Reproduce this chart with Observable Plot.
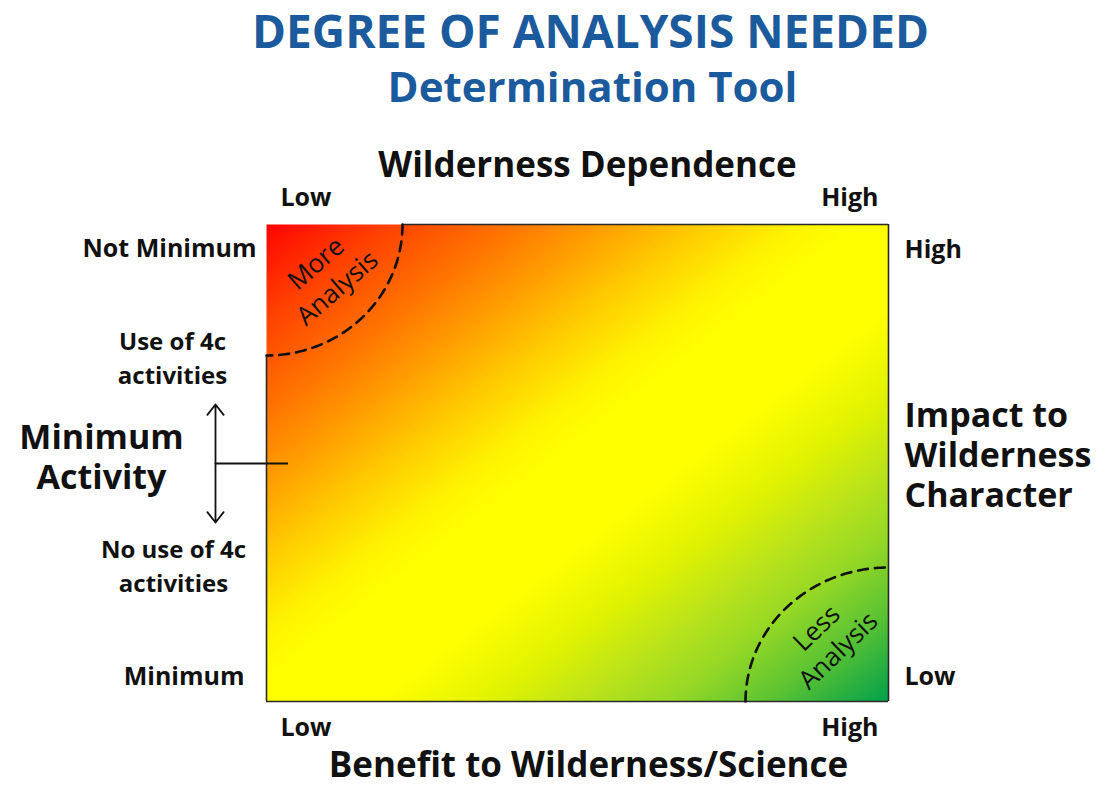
<!DOCTYPE html>
<html>
<head>
<meta charset="utf-8">
<script src="https://cdn.jsdelivr.net/npm/d3@7"></script>
<script src="https://cdn.jsdelivr.net/npm/@observablehq/plot@0.6"></script>
<style>
  html, body { margin: 0; padding: 0; background: #fff; }
  #chart { width: 1103px; height: 786px; }
</style>
</head>
<body>
<div id="chart"></div>
<script>
// ---- Texts / categories ----
const titleLines = ["DEGREE OF ANALYSIS NEEDED", "Determination Tool"];
const topAxisTitle = "Wilderness Dependence";
const bottomAxisTitle = "Benefit to Wilderness/Science";
const xTickLabels = ["Low", "High"];            // at x = 0 and x = 1
const rightTickLabels = ["Low", "High"];        // at y = 0 and y = 1
const rightAxisTitle = "Impact to\nWilderness\nCharacter";
const leftTickLabels = ["Minimum", "Not Minimum"]; // at y = 0 and y = 1
const leftAxisTitle = "Minimum\nActivity";
const leftRangeLabels = ["No use of 4c\nactivities", "Use of 4c\nactivities"];
const zoneLabels = ["More\nAnalysis", "Less\nAnalysis"];

// ---- Gradient (value = x - y : -1 top-left ... +1 bottom-right) ----
const gradientStops  = [-1, -0.8, -0.6, -0.45, -0.3, -0.15, -0.05, 0.18, 0.35, 0.5, 0.65, 0.8, 1];
const gradientColors = ["#ff0400", "#ff4200", "#ff7600", "#ffa000", "#ffcc00", "#fff200", "#ffff00",
                        "#ffff00", "#e2f300", "#bde41a", "#95d826", "#5ec432", "#02a04c"];

// ---- Layout helpers (pixel -> data units of the unit square) ----
const W = 1103, H = 786, FX0 = 266, FX1 = 888, FY0 = 224, FY1 = 701;
const ux = px => (px - FX0) / (FX1 - FX0);
const vy = py => (FY1 - py) / (FY1 - FY0);

// zone arcs (radii in data units)
const tlR = {rx: ux(402), ry: 1 - vy(355)};
const brR = {rx: 1 - ux(745), ry: vy(567)};
const angles = d3.range(0, 91, 1).map(a => a * Math.PI / 180);
const arcTL = angles.map(a => ({x: tlR.rx * Math.cos(a), y: 1 - tlR.ry * Math.sin(a)}));
const arcBR = angles.map(a => ({x: 1 - brR.rx * Math.cos(a), y: brR.ry * Math.sin(a)}));

const ink = "#111";
const blue = "#1b5a9c";
const txt = (arr, opts) => Plot.text(arr, {text: d => d, fill: ink, fontWeight: 700, lineAnchor: "bottom", ...opts});

const chart = Plot.plot({
  width: W,
  height: H,
  marginLeft: FX0,
  marginRight: W - FX1,
  marginTop: FY0,
  marginBottom: H - FY1,
  style: {fontFamily: "'Open Sans', 'DejaVu Sans', sans-serif", background: "#fff", overflow: "visible"},
  x: {domain: [0, 1], axis: null},
  y: {domain: [0, 1], axis: null},
  color: {type: "linear", domain: gradientStops, range: gradientColors, interpolate: "rgb"},
  marks: [
    Plot.raster({fill: (x, y) => x - y, x1: 0, x2: 1, y1: 0, y2: 1, pixelSize: 1, imageRendering: "auto"}),
    // frame borders
    Plot.ruleY([1], {x1: tlR.rx, x2: 1, stroke: "#2a2a2a", strokeWidth: 1.6}),
    Plot.ruleY([0], {x1: 0, x2: 1, stroke: "#2a2a2a", strokeWidth: 1.6}),
    Plot.ruleX([0], {y1: 0, y2: 1 - tlR.ry, stroke: "#2a2a2a", strokeWidth: 1.6}),
    Plot.ruleX([1], {y1: 0, y2: 1, stroke: "#2a2a2a", strokeWidth: 1.6}),
    // dashed zone arcs
    Plot.line(arcTL, {x: "x", y: "y", stroke: ink, strokeWidth: 2.6, strokeDasharray: "10,7", curve: "linear"}),
    Plot.line(arcBR, {x: "x", y: "y", stroke: ink, strokeWidth: 2.6, strokeDasharray: "10,7", curve: "linear"}),
    // zone labels
    Plot.text([zoneLabels[0]], {text: d => d, x: ux(325), y: vy(274), rotate: -41, fontSize: 26, lineHeight: 1.25, fill: ink, textAnchor: "middle", lineAnchor: "middle"}),
    Plot.text([zoneLabels[1]], {text: d => d, x: ux(826), y: vy(638), rotate: -44, fontSize: 26, lineHeight: 1.2, fill: ink, textAnchor: "middle", lineAnchor: "middle"}),
    // minimum activity bracket
    Plot.arrow([1, -1], {x1: ux(215), x2: ux(215), y1: vy(463), y2: d => vy(463 - d * 59), stroke: ink, strokeWidth: 1.8, headLength: 11, headAngle: 76}),
    Plot.ruleY([vy(463)], {x1: ux(215), x2: ux(288), stroke: ink, strokeWidth: 1.8}),
    // title
    txt([titleLines[0]], {x: ux(590), y: vy(47), fontSize: 46, fill: blue, textAnchor: "middle"}),
    txt([titleLines[1]], {x: ux(592), y: vy(101), fontSize: 42, fill: blue, textAnchor: "middle"}),
    // axis titles
    txt([topAxisTitle], {x: ux(587), y: vy(176), fontSize: 35, textAnchor: "middle"}),
    txt([bottomAxisTitle], {x: ux(588), y: vy(776), fontSize: 35, textAnchor: "middle"}),
    // x tick labels (top and bottom)
    txt([xTickLabels[0]], {x: 0, y: vy(205), dx: 14, fontSize: 25, textAnchor: "start"}),
    txt([xTickLabels[1]], {x: 1, y: vy(205), dx: -10, fontSize: 25, textAnchor: "end"}),
    txt([xTickLabels[0]], {x: 0, y: vy(735), dx: 14, fontSize: 25, textAnchor: "start"}),
    txt([xTickLabels[1]], {x: 1, y: vy(735), dx: -10, fontSize: 25, textAnchor: "end"}),
    // right ticks
    txt([rightTickLabels[1]], {x: ux(904), y: vy(257), fontSize: 25, textAnchor: "start"}),
    txt([rightTickLabels[0]], {x: ux(904), y: vy(684), fontSize: 25, textAnchor: "start"}),
    // left ticks
    txt([leftTickLabels[1]], {x: ux(256), y: vy(256), fontSize: 25, textAnchor: "end"}),
    txt([leftTickLabels[0]], {x: ux(244), y: vy(684), fontSize: 25, textAnchor: "end"}),
    // right axis title (y = baseline of last line)
    txt([rightAxisTitle], {x: ux(904), y: vy(506), fontSize: 34, lineHeight: 40 / 34, textAnchor: "start"}),
    // left axis title
    txt([leftAxisTitle], {x: ux(101), y: vy(488), fontSize: 34, lineHeight: 40 / 34, textAnchor: "middle"}),
    // left range labels
    txt([leftRangeLabels[1]], {x: ux(172), y: vy(383), fontSize: 24, lineHeight: 1.38, textAnchor: "middle"}),
    txt([leftRangeLabels[0]], {x: ux(173), y: vy(591), fontSize: 24, lineHeight: 1.38, textAnchor: "middle"})
  ]
});
document.getElementById("chart").append(chart);
</script>
</body>
</html>
